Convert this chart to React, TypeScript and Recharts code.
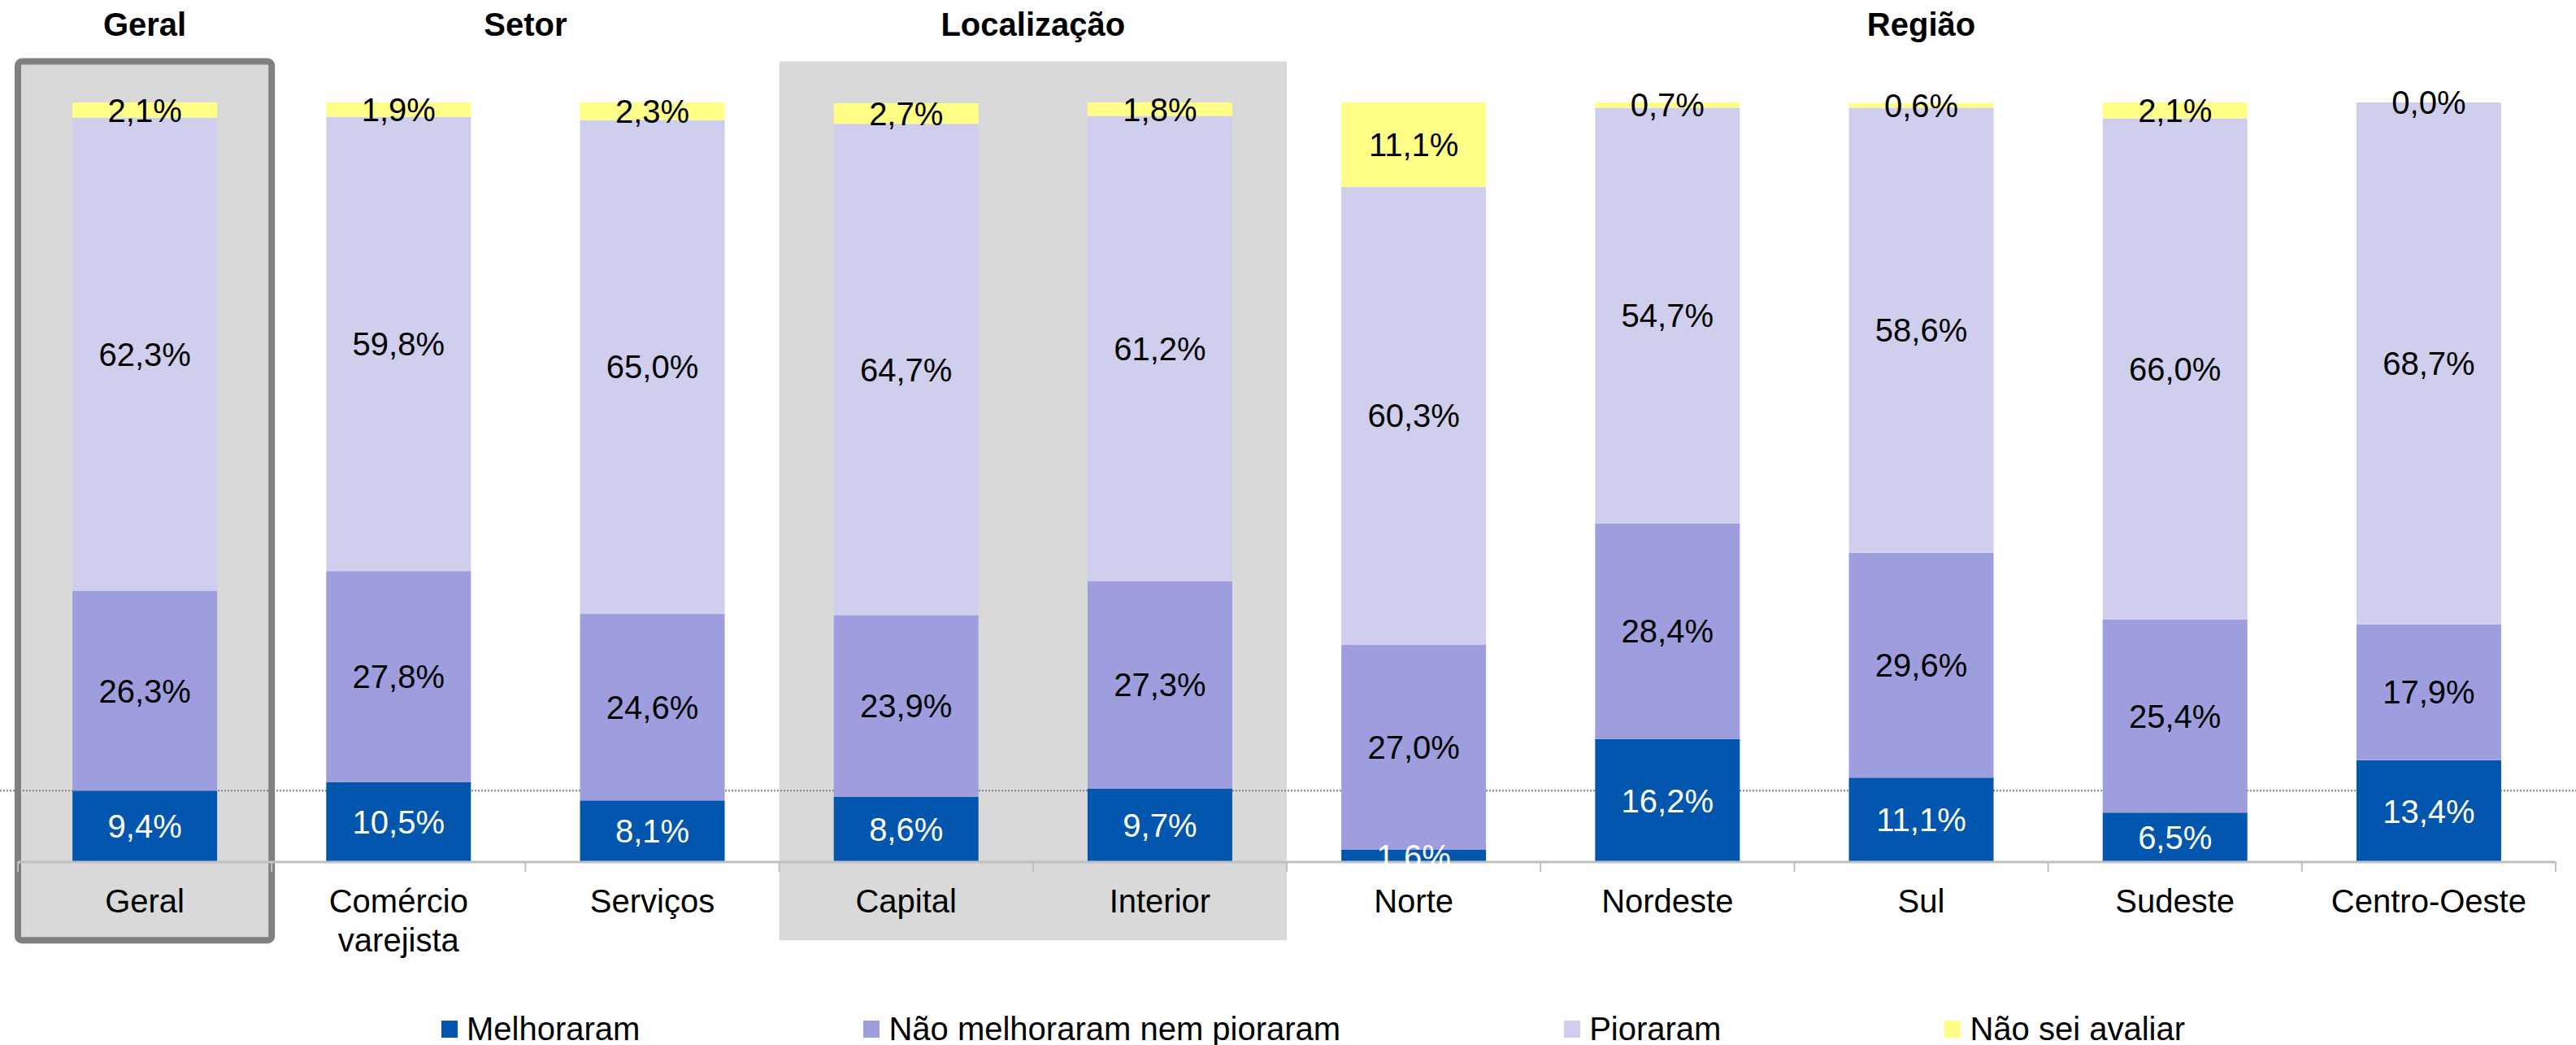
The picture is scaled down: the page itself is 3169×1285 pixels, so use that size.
import React from 'react';
import { BarChart, Bar, XAxis, YAxis, LabelList, Legend, ReferenceArea, ReferenceLine } from 'recharts';

const categories = ['Geral', 'Comércio varejista', 'Serviços', 'Capital', 'Interior', 'Norte', 'Nordeste', 'Sul', 'Sudeste', 'Centro-Oeste'];
const melhoraram = [9.4, 10.5, 8.1, 8.6, 9.7, 1.6, 16.2, 11.1, 6.5, 13.4];
const nemNem = [26.3, 27.8, 24.6, 23.9, 27.3, 27.0, 28.4, 29.6, 25.4, 17.9];
const pioraram = [62.3, 59.8, 65.0, 64.7, 61.2, 60.3, 54.7, 58.6, 66.0, 68.7];
const naoSei = [2.1, 1.9, 2.3, 2.7, 1.8, 11.1, 0.7, 0.6, 2.1, 0.0];

const groupTitles = ['Geral', 'Setor', 'Localização', 'Região'];
const groupFirst = ['Geral', 'Comércio varejista', 'Capital', 'Norte'];
const groupSize = [1, 2, 2, 5];

const seriesNames = ['Melhoraram', 'Não melhoraram nem pioraram', 'Pioraram', 'Não sei avaliar'];
const seriesKeys = ['melhoraram', 'nemNem', 'pioraram', 'naoSei'];
const seriesColors = ['#0256ae', '#9e9edf', '#cfcfed', '#ffff88'];
const labelColors = ['#ffffff', '#000000', '#000000', '#000000'];

// decorative background panels (value range in y-axis units)
const panelTop = 105.4;
const panelBottom = -10.3;

const data = categories.map((c, i) => ({
  name: c,
  melhoraram: melhoraram[i],
  nemNem: nemNem[i],
  pioraram: pioraram[i],
  naoSei: naoSei[i],
}));

const FONT = '"Liberation Sans", Arial, Helvetica, sans-serif';
const W = 3169;
const H = 1285;

const fmt = (v: any) => Number(v).toFixed(1).replace('.', ',') + '%';

const CategoryTick = (props: any) => {
  const { x, y, payload, index } = props;
  const half = payload && payload.offset ? payload.offset : 156;
  const value = String(payload.value);
  const lines = value.split(' ');
  const gi = groupFirst.indexOf(value);
  return (
    <g>
      <line x1={x - half} x2={x - half} y1={y} y2={y + 12} stroke="#bfbfbf" strokeWidth={2} />
      {index === categories.length - 1 && (
        <line x1={x + half} x2={x + half} y1={y} y2={y + 12} stroke="#bfbfbf" strokeWidth={2} />
      )}
      <text x={x} y={y + 62} textAnchor="middle" fontSize={40} fontFamily={FONT} fill="#000">
        {lines.map((l, k) => (
          <tspan key={k} x={x} dy={k === 0 ? 0 : 48}>{l}</tspan>
        ))}
      </text>
      {gi >= 0 && (
        <text x={x + (groupSize[gi] - 1) * half} y={44} textAnchor="middle" fontSize={40} fontWeight="bold" fontFamily={FONT} fill="#000">
          {groupTitles[gi]}
        </text>
      )}
    </g>
  );
};

// label for a zero-height top segment, placed at the top of the stack
const ZeroTopLabel = (props: any) => {
  const { x, y, width, value } = props;
  if (value !== 0) return null;
  return (
    <text x={x + width / 2} y={y} textAnchor="middle" dominantBaseline="central" fontSize={40} fontFamily={FONT} fill="#000">
      {fmt(value)}
    </text>
  );
};

const renderLegend = () => (
  <div style={{ display: 'flex', justifyContent: 'center', alignItems: 'center', height: 40, paddingLeft: 65, fontFamily: FONT, fontSize: 40, color: '#000' }}>
    {seriesNames.map((n, i) => (
      <div key={n} style={{ display: 'flex', alignItems: 'center', marginRight: i === seriesNames.length - 1 ? 0 : 275 }}>
        <div style={{ width: 20, height: 21, background: seriesColors[i], marginRight: 11 }} />
        <span style={{ lineHeight: '40px', whiteSpace: 'nowrap' }}>{n}</span>
      </div>
    ))}
  </div>
);

export default function App() {
  return (
    <div style={{ position: 'absolute', left: 0, top: 0, width: W, height: H, background: '#fff' }}>
      <BarChart
        width={W}
        height={H}
        data={data}
        margin={{ top: 126, right: 25, left: 22, bottom: 0 }}
        barCategoryGap="21.5%"
      >
        <ReferenceArea
          x1="Geral"
          x2="Geral"
          y1={panelBottom}
          y2={panelTop}
          ifOverflow="visible"
          fill="#d9d9d9"
          fillOpacity={1}
          stroke="#808080"
          strokeWidth={8}
          radius={5}
          zIndex={50}
        />
        <ReferenceArea
          x1="Capital"
          x2="Interior"
          y1={panelBottom}
          y2={panelTop}
          ifOverflow="visible"
          fill="#d9d9d9"
          fillOpacity={1}
          stroke="none"
          zIndex={50}
        />
        <ReferenceLine
          y={melhoraram[0]}
          ifOverflow="visible"
          zIndex={150}
          shape={(p: any) => (
            <line x1={0} x2={W} y1={p.y1} y2={p.y1} stroke="#7f7f7f" strokeWidth={2} strokeDasharray="2 2" />
          )}
        />
        <XAxis
          dataKey="name"
          interval={0}
          height={185}
          tickSize={0}
          tickMargin={0}
          tickLine={false}
          axisLine={{ stroke: '#c0c0c0', strokeWidth: 3 }}
          tick={<CategoryTick />}
        />
        <YAxis hide domain={[0, 100]} allowDataOverflow />
        <Legend verticalAlign="bottom" height={40} content={renderLegend} />
        {seriesKeys.map((k, i) => (
          <Bar key={k} dataKey={k} name={seriesNames[i]} stackId="a" fill={seriesColors[i]} isAnimationActive={false}>
            <LabelList
              dataKey={k}
              position="center"
              formatter={fmt}
              fill={labelColors[i]}
              fontSize={40}
              fontFamily={FONT}
            />
            {k === 'pioraram' && <LabelList dataKey="naoSei" content={<ZeroTopLabel />} />}
          </Bar>
        ))}
      </BarChart>
    </div>
  );
}
